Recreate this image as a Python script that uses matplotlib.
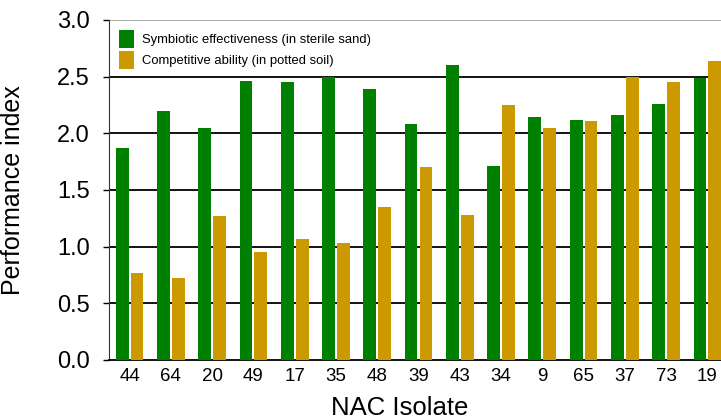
import numpy as np
import matplotlib.pyplot as plt

plt.rcParams['font.family'] = ['Liberation Sans', 'DejaVu Sans']

isolates = ['44', '64', '20', '49', '17', '35', '48', '39', '43', '34', '9', '65', '37', '73', '19']
symbiotic = [1.87, 2.20, 2.05, 2.46, 2.45, 2.50, 2.39, 2.08, 2.60, 1.71, 2.14, 2.12, 2.16, 2.26, 2.49]
competitive = [0.77, 0.72, 1.27, 0.95, 1.07, 1.03, 1.35, 1.70, 1.28, 2.25, 2.05, 2.11, 2.50, 2.45, 2.64]

green = '#008000'
gold = '#cc9900'

fig = plt.figure(figsize=(7.21, 4.2), dpi=100)
ax = fig.add_axes([109/721, 60/420, 1 - 109/721, 340/420])

x = np.arange(len(isolates))
w = 0.31
ax.bar(x - 0.18, symbiotic, w, color=green, label='Symbiotic effectiveness (in sterile sand)', zorder=3)
ax.bar(x + 0.18, competitive, w, color=gold, label='Competitive ability (in potted soil)', zorder=3)

ax.set_xlim(-0.5, 14.33)
ax.set_ylim(0, 3.0)
ax.set_yticks(np.arange(0, 3.01, 0.5))
ax.set_yticklabels(['%.1f' % v for v in np.arange(0, 3.01, 0.5)], fontsize=17)
ax.set_xticks(x)
ax.set_xticklabels(isolates, fontsize=13.5)
ax.tick_params(axis='x', length=0, pad=6)
ax.tick_params(axis='y', length=4, width=1, pad=10)

for v in np.arange(0.5, 2.51, 0.5):
    ax.axhline(v, color='black', lw=1.3, zorder=1)
ax.axhline(3.0, color='#999999', lw=1.2, zorder=1)

for s in ['top', 'right']:
    ax.spines[s].set_visible(False)
ax.spines['left'].set_color('#333333')
ax.spines['bottom'].set_linewidth(1.3)

ax.set_ylabel('Performance index', fontsize=18)
ax.yaxis.set_label_coords(-0.137, 0.5)
ax.set_xlabel('NAC Isolate', fontsize=18.5)
ax.xaxis.set_label_coords((399.5 - 109) / 612, -0.105)

leg = ax.legend(loc='upper left', fontsize=9.4, frameon=False, handlelength=1.2,
                handleheight=1.8, borderaxespad=0.35, labelspacing=0.2, handletextpad=0.6)

fig.savefig('out.png', dpi=100)
